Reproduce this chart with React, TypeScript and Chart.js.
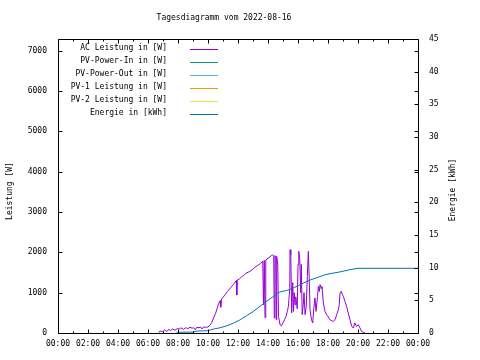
import React, { useEffect, useRef } from "react";
import { Chart, registerables } from "chart.js";

Chart.register(...registerables);

const TITLE = "Tagesdiagramm vom 2022-08-16";
const Y_TITLE = "Leistung [W]";
const Y2_TITLE = "Energie [kWh]";
const FONT = "DejaVu Sans Mono";

const LEGEND_LABELS = [
  "AC Leistung in [W]",
  "PV-Power-In in [W]",
  "PV-Power-Out in [W]",
  "PV-1 Leistung in [W]",
  "PV-2 Leistung in [W]",
  "Energie in [kWh]",
];
const COLORS = ["#9400d3", "#009e73", "#56b4e9", "#e69f00", "#f0e442", "#0072b2"];

const X_TICK_HOURS = [0, 2, 4, 6, 8, 10, 12, 14, 16, 18, 20, 22, 24];
const Y_TICKS = [0, 1000, 2000, 3000, 4000, 5000, 6000, 7000];
const Y2_TICKS = [0, 5, 10, 15, 20, 25, 30, 35, 40, 45];

const acHours = [
  6.7, 6.85, 7.0, 7.1, 7.25, 7.4, 7.5, 7.65, 7.8, 7.95, 8.1, 8.2, 8.35, 8.5, 8.65, 8.8, 8.95, 9.05, 9.15, 9.25,
  9.4, 9.5, 9.6, 9.7, 9.85, 10.0, 10.15, 10.25, 10.4, 10.5, 10.6, 10.7, 10.8, 10.85, 10.9, 11.0, 11.13, 11.3,
  11.5, 11.69, 11.8, 11.88, 11.92, 11.95, 12.1, 12.25, 12.36, 12.45, 12.55, 12.7, 12.8, 12.95, 13.1, 13.2,
  13.36, 13.5, 13.65, 13.7, 13.75, 13.8, 13.85, 14.0, 14.1, 14.24, 14.3, 14.38, 14.42, 14.46, 14.52, 14.55,
  14.58, 14.65, 14.7, 14.8, 14.9, 15.0, 15.1, 15.2, 15.3, 15.36, 15.45, 15.47, 15.52, 15.58, 15.65, 15.7,
  15.75, 15.8, 15.85, 15.95, 16.0, 16.05, 16.12, 16.18, 16.22, 16.28, 16.35, 16.4, 16.47, 16.55, 16.62, 16.69,
  16.75, 16.8, 16.9, 16.98, 17.05, 17.13, 17.2, 17.3, 17.36, 17.42, 17.47, 17.55, 17.6, 17.69, 17.8, 17.91,
  18.02, 18.13, 18.25, 18.36, 18.47, 18.58, 18.69, 18.75, 18.8, 18.87, 18.95, 19.02, 19.13, 19.24, 19.35,
  19.47, 19.58, 19.69, 19.78, 19.9, 20.02, 20.13, 20.24, 20.35, 20.47,
];
const acWatts = [
  20, 50, 30, 80, 40, 90, 60, 100, 70, 110, 100, 130, 90, 130, 110, 140, 120, 130, 80, 140,
  130, 150, 100, 150, 140, 150, 200, 260, 400, 480, 600, 720, 800, 640, 850, 880, 950, 1030,
  1120, 1200, 1260, 1300, 940, 1310, 1340, 1400, 1420, 1450, 1490, 1510, 1530, 1570, 1620, 1650,
  1690, 1720, 1780, 700, 1800, 380, 1810, 1850, 1880, 1925, 1940, 1900, 370, 1920, 1880, 330,
  1900, 1700, 410, 205, 180, 250, 330, 410, 560, 660, 1100, 2065, 1940, 500, 1250, 535,
  1000, 700, 900, 600, 1700, 2025, 1820, 1000, 1700, 455, 700, 1000, 455, 660, 1400, 2025,
  1320, 580, 330, 250, 600, 870, 535, 900, 1155, 1030, 1200, 1100, 1155, 745, 535, 455,
  400, 330, 300, 290, 330, 455, 580, 700, 990, 1030, 960, 910, 785, 660, 495,
  330, 165, 125, 250, 165, 205, 125, 40, 20, 0,
];

const energyHours = [
  7.9, 9.0, 9.3, 10.0, 10.36, 10.8, 11.24, 11.69, 12.13, 12.58, 13.02, 13.47, 13.9, 14.36, 14.69, 15.0,
  15.24, 15.69, 16.02, 16.36, 16.8, 17.36, 17.8, 18.13, 18.8, 19.47, 20.0, 24.0,
];
const energyKwh = [
  0.1, 0.15, 0.3, 0.35, 0.6, 0.8, 1.1, 1.5, 2.0, 2.65, 3.3, 4.1, 4.85, 5.6, 6.2, 6.4,
  6.5, 6.9, 7.25, 7.65, 8.1, 8.55, 8.9, 9.08, 9.35, 9.7, 9.9, 9.9,
];

const pvInHours: number[] = [];
const pvInWatts: number[] = [];
const pvOutHours: number[] = [];
const pvOutWatts: number[] = [];
const pv1Hours: number[] = [];
const pv1Watts: number[] = [];
const pv2Hours: number[] = [];
const pv2Watts: number[] = [];

const toPoints = (xs: number[], ys: number[]) => xs.map((x, i) => ({ x, y: ys[i] }));
const fmtHour = (h: number) => String(h % 24).padStart(2, "0") + ":00";

const decorPlugin = {
  id: "decor",
  afterDraw(chart: any) {
    const { ctx, chartArea } = chart;
    const { left, right, top, bottom } = chartArea;
    const xs = chart.scales.x;
    const ys = chart.scales.y;
    const y2s = chart.scales.y2;
    ctx.save();
    ctx.strokeStyle = "#000";
    ctx.lineWidth = 1;
    ctx.beginPath();
    // border
    ctx.rect(left + 0.5, top + 0.5, right - left, bottom - top);
    // x ticks (bottom and top), major every 2h, minor every hour
    for (let h = 0; h <= 24; h++) {
      const px = Math.round(xs.getPixelForValue(h)) + 0.5;
      const len = h % 2 === 0 ? 4 : 2;
      ctx.moveTo(px, bottom + 0.5);
      ctx.lineTo(px, bottom + 0.5 - len);
      ctx.moveTo(px, top + 0.5);
      ctx.lineTo(px, top + 0.5 + len);
    }
    // y ticks left (mirrored on right)
    for (const v of Y_TICKS) {
      const py = Math.round(ys.getPixelForValue(v)) + 0.5;
      ctx.moveTo(left + 0.5, py);
      ctx.lineTo(left + 4.5, py);
      ctx.moveTo(right + 0.5, py);
      ctx.lineTo(right - 3.5, py);
    }
    for (const v of Y2_TICKS) {
      const py = Math.round(y2s.getPixelForValue(v)) + 0.5;
      ctx.moveTo(right + 0.5, py);
      ctx.lineTo(right - 3.5, py);
    }
    ctx.stroke();

    ctx.fillStyle = "#000";
    ctx.font = `8px "${FONT}"`;
    ctx.textBaseline = "middle";
    // title
    ctx.textAlign = "center";
    ctx.fillText(TITLE, 224, 18);
    // axis titles
    ctx.save();
    ctx.translate(10, 191);
    ctx.rotate(-Math.PI / 2);
    ctx.fillText(Y_TITLE, 0, 0);
    ctx.restore();
    ctx.save();
    ctx.translate(453, 190);
    ctx.rotate(-Math.PI / 2);
    ctx.fillText(Y2_TITLE, 0, 0);
    ctx.restore();
    // legend
    ctx.textAlign = "right";
    LEGEND_LABELS.forEach((label, i) => {
      const y = 48 + 13 * i;
      ctx.fillStyle = "#000";
      ctx.fillText(label, 167, y);
      ctx.strokeStyle = COLORS[i];
      ctx.beginPath();
      ctx.moveTo(190, Math.round(y + 1) + 0.5);
      ctx.lineTo(218, Math.round(y + 1) + 0.5);
      ctx.stroke();
    });
    ctx.restore();
  },
};

export default function App() {
  const ref = useRef<HTMLCanvasElement>(null);
  useEffect(() => {
    if (!ref.current) return;
    const tickFont = { family: FONT, size: 8 };
    const chart = new Chart(ref.current, {
      type: "line",
      data: {
        datasets: [
          { label: LEGEND_LABELS[0], data: toPoints(acHours, acWatts), borderColor: COLORS[0], yAxisID: "y", order: 5 },
          { label: LEGEND_LABELS[1], data: toPoints(pvInHours, pvInWatts), borderColor: COLORS[1], yAxisID: "y", order: 4 },
          { label: LEGEND_LABELS[2], data: toPoints(pvOutHours, pvOutWatts), borderColor: COLORS[2], yAxisID: "y", order: 3 },
          { label: LEGEND_LABELS[3], data: toPoints(pv1Hours, pv1Watts), borderColor: COLORS[3], yAxisID: "y", order: 2 },
          { label: LEGEND_LABELS[4], data: toPoints(pv2Hours, pv2Watts), borderColor: COLORS[4], yAxisID: "y", order: 1 },
          { label: LEGEND_LABELS[5], data: toPoints(energyHours, energyKwh), borderColor: COLORS[5], yAxisID: "y2", order: 0 },
        ].map((d) => ({ ...d, borderWidth: 1, pointRadius: 0, tension: 0, fill: false })),
      },
      options: {
        responsive: false,
        animation: false,
        layout: { padding: { top: 39, left: 0, right: 0, bottom: 0 } },
        plugins: { legend: { display: false }, tooltip: { enabled: false }, title: { display: false } },
        scales: {
          x: {
            type: "linear",
            min: 0,
            max: 24,
            grid: { display: false, drawTicks: false },
            border: { display: false },
            afterBuildTicks: (s: any) => { s.ticks = X_TICK_HOURS.map((v) => ({ value: v })); },
            afterFit: (s: any) => { s.height = 27; },
            ticks: { color: "#000", font: tickFont, padding: 6, maxRotation: 0, autoSkip: false, callback: (v: any) => fmtHour(Number(v)) },
          },
          y: {
            type: "linear",
            position: "left",
            min: 0,
            max: 7290,
            grid: { display: false, drawTicks: false },
            border: { display: false },
            afterBuildTicks: (s: any) => { s.ticks = Y_TICKS.map((v) => ({ value: v })); },
            afterFit: (s: any) => { s.width = 58; },
            ticks: { color: "#000", font: tickFont, padding: 11, callback: (v: any) => String(v) },
          },
          y2: {
            type: "linear",
            position: "right",
            min: 0,
            max: 45,
            grid: { display: false, drawTicks: false },
            border: { display: false },
            afterBuildTicks: (s: any) => { s.ticks = Y2_TICKS.map((v) => ({ value: v })); },
            afterFit: (s: any) => { s.width = 62; },
            ticks: { color: "#000", font: tickFont, padding: 11, callback: (v: any) => String(v) },
          },
        },
      },
      plugins: [decorPlugin],
    } as any);
    return () => chart.destroy();
  }, []);
  return (
    <div style={{ position: "absolute", left: 0, top: 0, width: 480, height: 360, background: "#fff" }}>
      <canvas ref={ref} width={480} height={360} />
    </div>
  );
}
